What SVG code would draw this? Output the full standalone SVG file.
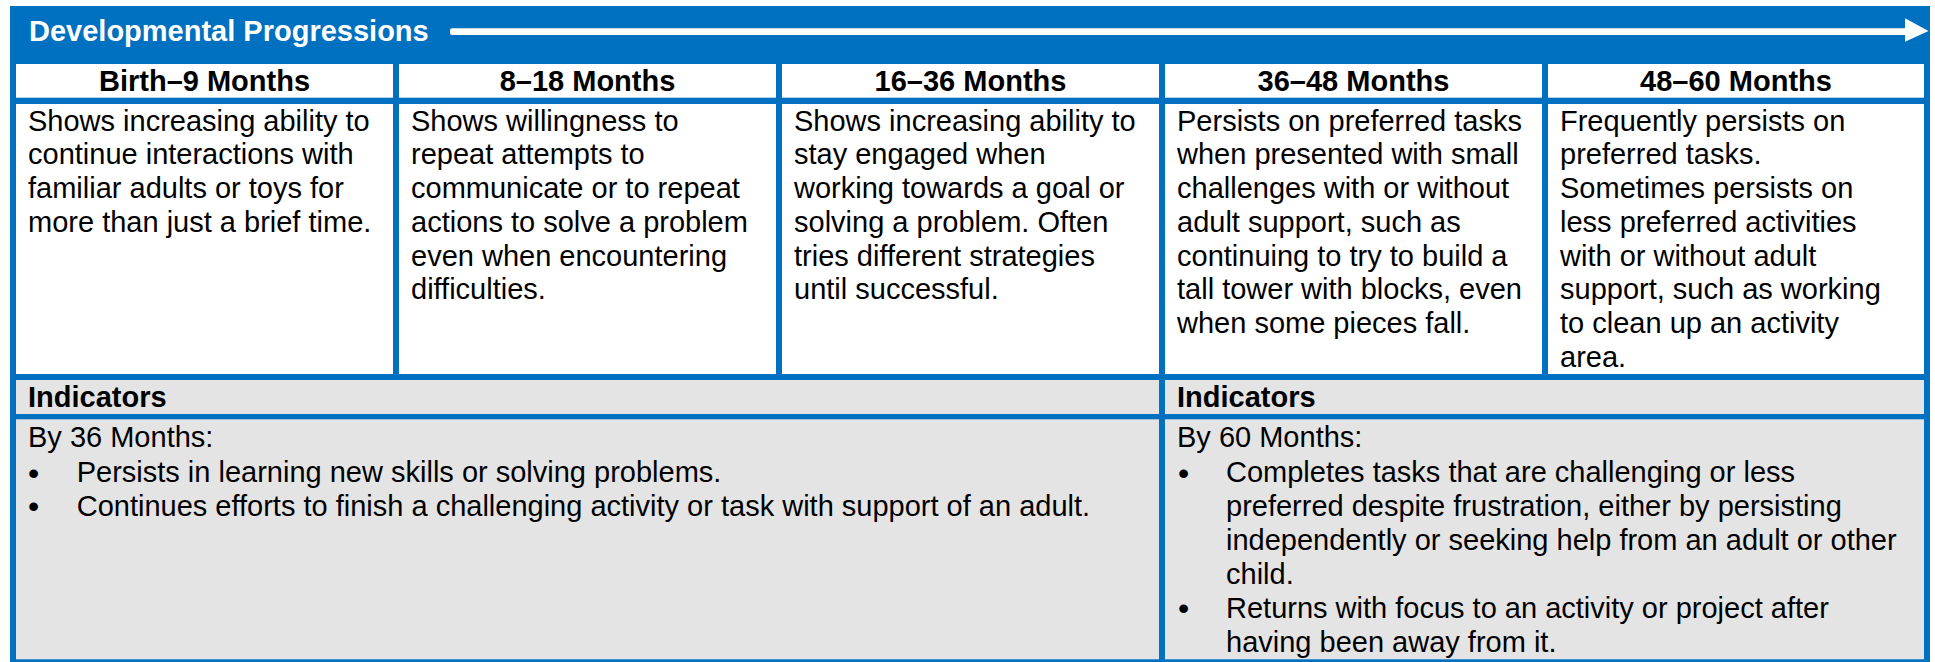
<svg xmlns="http://www.w3.org/2000/svg" width="1935" height="662" viewBox="0 0 1935 662">
<style>
text{font-family:"Liberation Sans",Arial,sans-serif;font-size:29px;fill:#000}
.b{font-weight:bold}
.t{font-weight:bold;fill:#fff}
.h{font-weight:bold;text-anchor:middle}
.w{fill:#fff}
.g{fill:#E4E4E4}
.bu{font-size:32px}
</style>
<rect x="0" y="0" width="1935" height="662" fill="#fff"/>
<rect x="10" y="6" width="1920" height="662" fill="#0070C0"/>
<g id="title"><text class="t" x="29" y="41">Developmental Progressions</text></g>
<g id="connectors">
<rect x="450" y="28.3" width="1457" height="6.6" rx="2" fill="#fff"/>
<polygon points="1905,18.3 1928.5,31 1905,41.7" fill="#fff"/>
</g>
<g id="col1">
<rect class="w" x="16" y="64" width="377" height="33.7"/>
<text class="h" x="204.5" y="91">Birth–9 Months</text>
<rect class="w" x="16" y="104" width="377" height="270"/>
<text x="28" y="130.5">Shows increasing ability to</text>
<text x="28" y="164.25">continue interactions with</text>
<text x="28" y="198">familiar adults or toys for</text>
<text x="28" y="231.75">more than just a brief time.</text>
</g>
<g id="col2">
<rect class="w" x="399" y="64" width="377" height="33.7"/>
<text class="h" x="587.5" y="91">8–18 Months</text>
<rect class="w" x="399" y="104" width="377" height="270"/>
<text x="411" y="130.5">Shows willingness to</text>
<text x="411" y="164.25">repeat attempts to</text>
<text x="411" y="198">communicate or to repeat</text>
<text x="411" y="231.75">actions to solve a problem</text>
<text x="411" y="265.5">even when encountering</text>
<text x="411" y="299.25">difficulties.</text>
</g>
<g id="col3">
<rect class="w" x="782" y="64" width="377" height="33.7"/>
<text class="h" x="970.5" y="91">16–36 Months</text>
<rect class="w" x="782" y="104" width="377" height="270"/>
<text x="794" y="130.5">Shows increasing ability to</text>
<text x="794" y="164.25">stay engaged when</text>
<text x="794" y="198">working towards a goal or</text>
<text x="794" y="231.75">solving a problem. Often</text>
<text x="794" y="265.5">tries different strategies</text>
<text x="794" y="299.25">until successful.</text>
</g>
<g id="col4">
<rect class="w" x="1165" y="64" width="377" height="33.7"/>
<text class="h" x="1353.5" y="91">36–48 Months</text>
<rect class="w" x="1165" y="104" width="377" height="270"/>
<text x="1177" y="130.5">Persists on preferred tasks</text>
<text x="1177" y="164.25">when presented with small</text>
<text x="1177" y="198">challenges with or without</text>
<text x="1177" y="231.75">adult support, such as</text>
<text x="1177" y="265.5">continuing to try to build a</text>
<text x="1177" y="299.25">tall tower with blocks, even</text>
<text x="1177" y="333">when some pieces fall.</text>
</g>
<g id="col5">
<rect class="w" x="1548" y="64" width="376" height="33.7"/>
<text class="h" x="1736" y="91">48–60 Months</text>
<rect class="w" x="1548" y="104" width="376" height="270"/>
<text x="1560" y="130.5">Frequently persists on</text>
<text x="1560" y="164.25">preferred tasks.</text>
<text x="1560" y="198">Sometimes persists on</text>
<text x="1560" y="231.75">less preferred activities</text>
<text x="1560" y="265.5">with or without adult</text>
<text x="1560" y="299.25">support, such as working</text>
<text x="1560" y="333">to clean up an activity</text>
<text x="1560" y="366.75">area.</text>
</g>
<g id="indicators-36">
<rect class="g" x="16" y="380" width="1143" height="34"/>
<text class="b" x="28" y="406.7">Indicators</text>
<rect class="g" x="16" y="419.3" width="1143" height="240"/>
<text x="28" y="447">By 36 Months:</text>
<text class="bu" x="28" y="483.5">•</text>
<text x="76.7" y="482">Persists in learning new skills or solving problems.</text>
<text class="bu" x="28" y="517.4">•</text>
<text x="76.7" y="515.9">Continues efforts to finish a challenging activity or task with support of an adult.</text>
</g>
<g id="indicators-60">
<rect class="g" x="1165" y="380" width="759" height="34"/>
<text class="b" x="1177" y="406.7">Indicators</text>
<rect class="g" x="1165" y="419.3" width="759" height="240"/>
<text x="1177" y="447">By 60 Months:</text>
<text class="bu" x="1178" y="483.5">•</text>
<text x="1226" y="482">Completes tasks that are challenging or less</text>
<text x="1226" y="515.9">preferred despite frustration, either by persisting</text>
<text x="1226" y="549.8">independently or seeking help from an adult or other</text>
<text x="1226" y="583.7">child.</text>
<text class="bu" x="1178" y="619.1">•</text>
<text x="1226" y="617.6">Returns with focus to an activity or project after</text>
<text x="1226" y="651.5">having been away from it.</text>
</g>
</svg>
